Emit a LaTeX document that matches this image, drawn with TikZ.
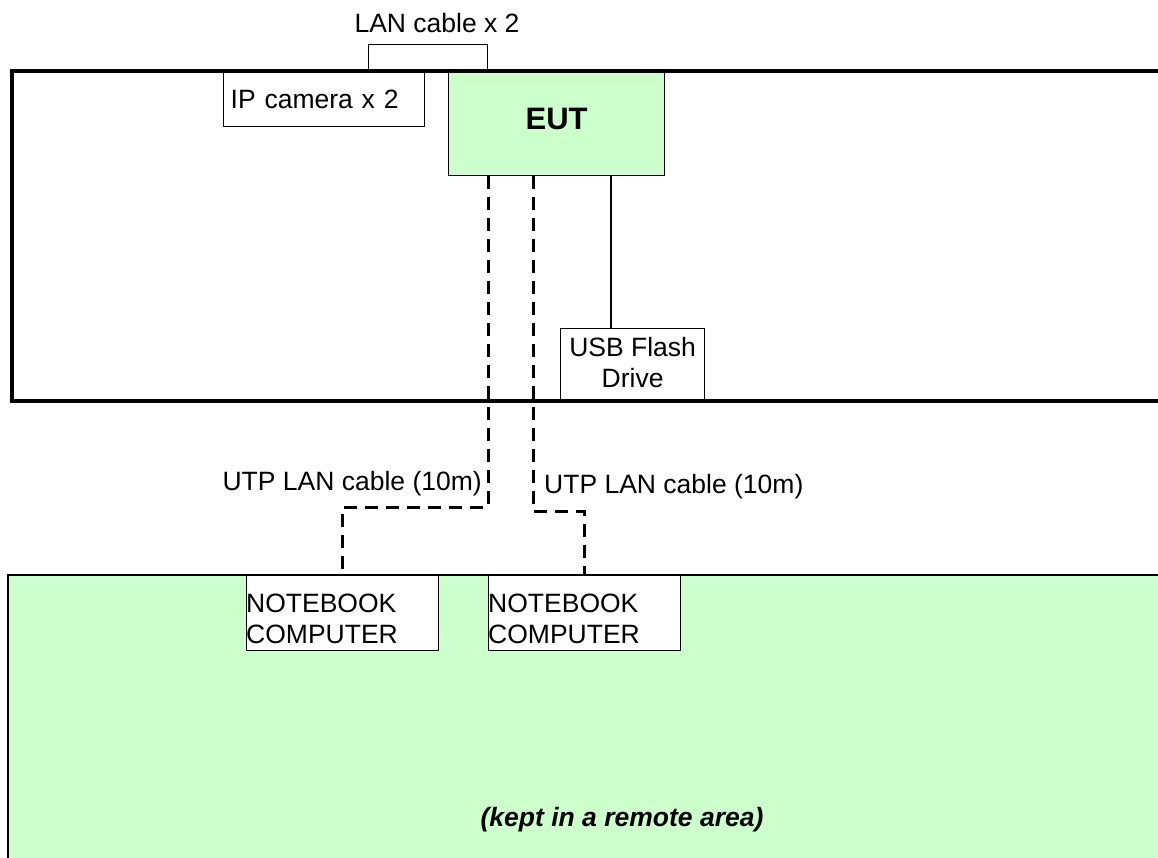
\documentclass[tikz,border=0pt]{standalone}
\usepackage{fontspec}
\setmainfont{Liberation Sans}
\usepackage{xcolor}
\usepackage{tikz}
\usetikzlibrary{positioning}
\definecolor{eutgreen}{RGB}{204, 255, 204}

\tikzset{
  txt/.style={font=\fontsize{26.5}{31}\selectfont},
  devbox/.style={draw, line width=1.3pt, fill=white, inner sep=0pt, anchor=north west, txt},
  room/.style={line width=3.2pt},
  utp/.style={line width=3pt, dash pattern=on 13pt off 8pt},
  usbwire/.style={line width=1.3pt}
}

\begin{document}
\begin{tikzpicture}[x=1pt, y=-1pt]
      \useasboundingbox (0,0) rectangle (1158,857);
      \clip (0,0) rectangle (1158,857);
      % remote area (green room)
      \fill[eutgreen] (8,575) rectangle (1200,900);
      % LAN cable bracket above the room
      \node[draw, line width=1.3pt, minimum width=119pt, minimum height=27pt, inner sep=0pt, anchor=north west] (lanbox) at (368,44) {};
      \node[txt] (lanlbl) at (437,23) {LAN cable x 2};
      % devices in the test room
      \node[devbox, text width=187pt, inner xsep=7pt, minimum height=54pt, align=left] (ipcam) at (223,72) {IP camera x 2};
      \node[devbox, fill=eutgreen, minimum width=216pt, minimum height=103pt, text depth=10pt, font=\fontsize{31}{36}\selectfont\bfseries] (eut) at (448,72) {EUT};
      \node[devbox, minimum width=144pt, minimum height=73pt, text depth=6pt, align=center] (usb) at (560,328) {USB Flash\\Drive};
      % notebooks with their UTP cables
      \foreach \nx/\bx/\by [count=\n] in {246/488/507, 488/533/511} {
        \node[devbox, minimum width=192pt, minimum height=75pt] (nb\n) at (\nx,575) {};
        \node[txt, anchor=west, align=left, inner sep=0pt] (nbtext\n) at ([yshift=-6pt]nb\n.west) {NOTEBOOK\\COMPUTER};
        \coordinate (bend\n) at (\bx,\by);
        \draw[utp] (eut.south -| bend\n) -- (bend\n) -| (nb\n.north);
      }
      % cable labels
      \node[txt, anchor=east, inner sep=0pt] (utplbl1) at (482,484) {UTP LAN cable (10m)};
      \node[txt, anchor=west, inner sep=0pt] (utplbl2) at (544,487) {UTP LAN cable (10m)};
      % USB wire
      \coordinate (usbtap) at (611,250);
      \draw[usbwire] (eut.south -| usbtap) -- (usb.north -| usbtap);
      % room outlines
      \draw[room] (12,71) rectangle (1200,401);
      \draw[room, line width=2.6pt] (8,575) rectangle (1200,900);
      \node[txt, font=\fontsize{26.5}{31}\selectfont\bfseries\itshape] (remote) at (622,820) {(kept in a remote area)};
    \end{tikzpicture}
\end{document}
